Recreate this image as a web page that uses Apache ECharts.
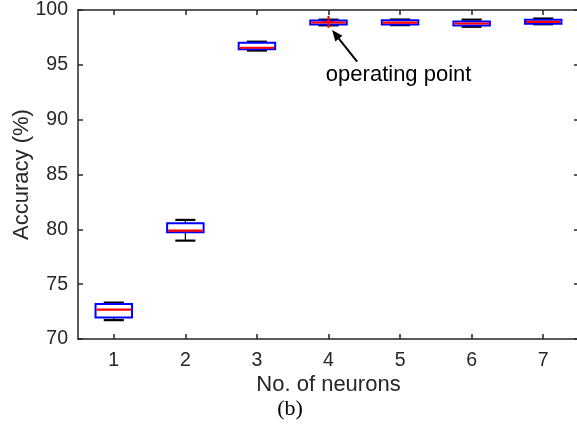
<!DOCTYPE html>
<html>
<head>
<meta charset="utf-8">
<script src="https://cdn.jsdelivr.net/npm/echarts@6/dist/echarts.min.js"></script>
<style>
html,body{margin:0;padding:0;background:#fff;overflow:hidden;}
#chart{width:577px;height:432px;}
</style>
</head>
<body>
<div id="chart"></div>
<script>
// ---- data ----
const categories = ['1', '2', '3', '4', '5', '6', '7'];
const whiskerLow  = [71.72, 78.97, 96.30, 98.60, 98.62, 98.47, 98.70];
const q1          = [71.95, 79.74, 96.42, 98.68, 98.67, 98.59, 98.74];
const medians     = [72.68, 79.88, 96.56, 98.86, 98.84, 98.77, 98.91];
const q3          = [73.20, 80.55, 97.02, 99.04, 99.07, 98.95, 99.10];
const whiskerHigh = [73.32, 80.86, 97.11, 99.12, 99.13, 99.12, 99.22];
const outlierCategory = [3];          // category index (No. of neurons = 4)
const outlierValue    = [98.92];
const yTicks = { min: 70, max: 100, step: 5 };
// annotation (category-index units, accuracy units)
const annotationText = 'operating point';
const arrowTail = [3.40, 95.29];
const arrowTip  = [3.05, 98.18];
const annotationPos = [3.98, 94.07];

const AX = '#262626';
const FONT = '"Liberation Sans", Arial, Helvetica, sans-serif';

const boxData = categories.map((c, i) => [i, whiskerLow[i], q1[i], medians[i], q3[i], whiskerHigh[i]]);
const outlierData = outlierCategory.map((c, i) => [c, outlierValue[i]]);

function renderBox(params, api) {
  const i = api.value(0);
  const band = api.size([1, 0])[0];
  const bw = band * 0.51;
  const cw = bw * 0.55;
  const lo = api.coord([i, api.value(1)]);
  const b1 = api.coord([i, api.value(2)]);
  const md = api.coord([i, api.value(3)]);
  const b3 = api.coord([i, api.value(4)]);
  const hi = api.coord([i, api.value(5)]);
  const x = lo[0];
  const blk = { stroke: '#000', lineWidth: 1.2 };
  const cap = { stroke: '#000', lineWidth: 2.2 };
  return {
    type: 'group',
    children: [
      { type: 'line', shape: { x1: x, y1: b3[1], x2: x, y2: hi[1] }, style: blk },
      { type: 'line', shape: { x1: x, y1: b1[1], x2: x, y2: lo[1] }, style: blk },
      { type: 'line', shape: { x1: x - cw / 2, y1: hi[1], x2: x + cw / 2, y2: hi[1] }, style: cap },
      { type: 'line', shape: { x1: x - cw / 2, y1: lo[1], x2: x + cw / 2, y2: lo[1] }, style: cap },
      { type: 'rect', shape: { x: x - bw / 2, y: b3[1], width: bw, height: b1[1] - b3[1] },
        style: { fill: 'none', stroke: '#0000FF', lineWidth: 2 } },
      { type: 'line', shape: { x1: x - bw / 2 + 1, y1: md[1], x2: x + bw / 2 - 1, y2: md[1] },
        style: { stroke: '#FF0000', lineWidth: 2.2 } }
    ]
  };
}

function renderOutlier(params, api) {
  const p = api.coord([api.value(0), api.value(1)]);
  const s = 6;
  const st = { stroke: '#FF0000', lineWidth: 2 };
  return {
    type: 'group',
    children: [
      { type: 'line', shape: { x1: p[0] - s, y1: p[1], x2: p[0] + s, y2: p[1] }, style: st },
      { type: 'line', shape: { x1: p[0], y1: p[1] - s, x2: p[0], y2: p[1] + s }, style: st }
    ]
  };
}

function px(api, pt) {
  const band = api.size([1, 0])[0];
  const base = api.coord([0, pt[1]]);
  return [base[0] + pt[0] * band, base[1]];
}

function renderAnnotation(params, api) {
  const t = px(api, arrowTail);
  const h = px(api, arrowTip);
  const tp = px(api, annotationPos);
  const dx = h[0] - t[0], dy = h[1] - t[1];
  const L = Math.sqrt(dx * dx + dy * dy);
  const ux = dx / L, uy = dy / L;
  const hl = 11, hw = 4.5;
  const bx = h[0] - ux * hl, by = h[1] - uy * hl;
  return {
    type: 'group',
    children: [
      { type: 'line', shape: { x1: t[0], y1: t[1], x2: bx + ux * 2, y2: by + uy * 2 },
        style: { stroke: '#000', lineWidth: 2 } },
      { type: 'polygon', shape: { points: [[h[0], h[1]], [bx - uy * hw, by + ux * hw], [bx + uy * hw, by - ux * hw]] },
        style: { fill: '#000' } },
      { type: 'text', style: { x: tp[0], y: tp[1], text: annotationText, fill: '#000',
        font: '22px ' + FONT, align: 'center', verticalAlign: 'middle' } }
    ]
  };
}

const chart = echarts.init(document.getElementById('chart'), null, { renderer: 'canvas' });
const axisLine = { show: true, lineStyle: { color: AX, width: 1.5 } };
chart.setOption({
  animation: false,
  backgroundColor: '#fff',
  grid: { left: 78, right: -2, top: 10, bottom: 93, containLabel: false, outerBoundsMode: 'none' },
  xAxis: [
    {
      type: 'category', data: categories, position: 'bottom', boundaryGap: true,
      axisLine: axisLine,
      axisTick: { show: true, inside: true, alignWithLabel: true, length: 5, lineStyle: { color: AX, width: 1.5 } },
      axisLabel: { color: AX, fontSize: 19.5, fontFamily: FONT, margin: 12 },
      splitLine: { show: false },
      name: 'No. of neurons', nameLocation: 'middle', nameGap: 35, nameMoveOverlap: false,
      nameTextStyle: { color: AX, fontSize: 22, fontFamily: FONT }
    },
    {
      type: 'category', data: categories, position: 'top', boundaryGap: true,
      axisLine: axisLine,
      axisTick: { show: true, inside: true, alignWithLabel: true, length: 5, lineStyle: { color: AX, width: 1.5 } },
      axisLabel: { show: false }, splitLine: { show: false }
    }
  ],
  yAxis: [
    {
      type: 'value', min: yTicks.min, max: yTicks.max, interval: yTicks.step, position: 'left',
      axisLine: axisLine,
      axisTick: { show: true, inside: true, length: 5, lineStyle: { color: AX, width: 1.5 } },
      axisLabel: { color: AX, fontSize: 19.5, fontFamily: FONT, margin: 10 },
      splitLine: { show: false },
      name: 'Accuracy (%)', nameLocation: 'middle', nameGap: 45, nameRotate: 90, nameMoveOverlap: false,
      nameTextStyle: { color: AX, fontSize: 22, fontFamily: FONT }
    },
    {
      type: 'value', min: yTicks.min, max: yTicks.max, interval: yTicks.step, position: 'right',
      axisLine: { show: false },
      axisTick: { show: true, inside: true, length: 5, lineStyle: { color: AX, width: 1.5 } },
      axisLabel: { show: false }, splitLine: { show: false }
    }
  ],
  series: [
    { type: 'custom', renderItem: renderBox, data: boxData, encode: { x: 0, y: [1, 2, 3, 4, 5] }, z: 3 },
    { type: 'custom', renderItem: renderOutlier, data: outlierData, encode: { x: 0, y: 1 }, z: 4 },
    { type: 'custom', renderItem: renderAnnotation, data: [[0, 95]], encode: { x: 0, y: 1 }, z: 5, clip: false }
  ],
  graphic: [
    { type: 'text', x: 290, y: 409, style: { text: '(b)', fill: '#000', font: '22px "Liberation Serif", "Times New Roman", serif',
      align: 'center', verticalAlign: 'middle' } }
  ]
});
</script>
</body>
</html>
